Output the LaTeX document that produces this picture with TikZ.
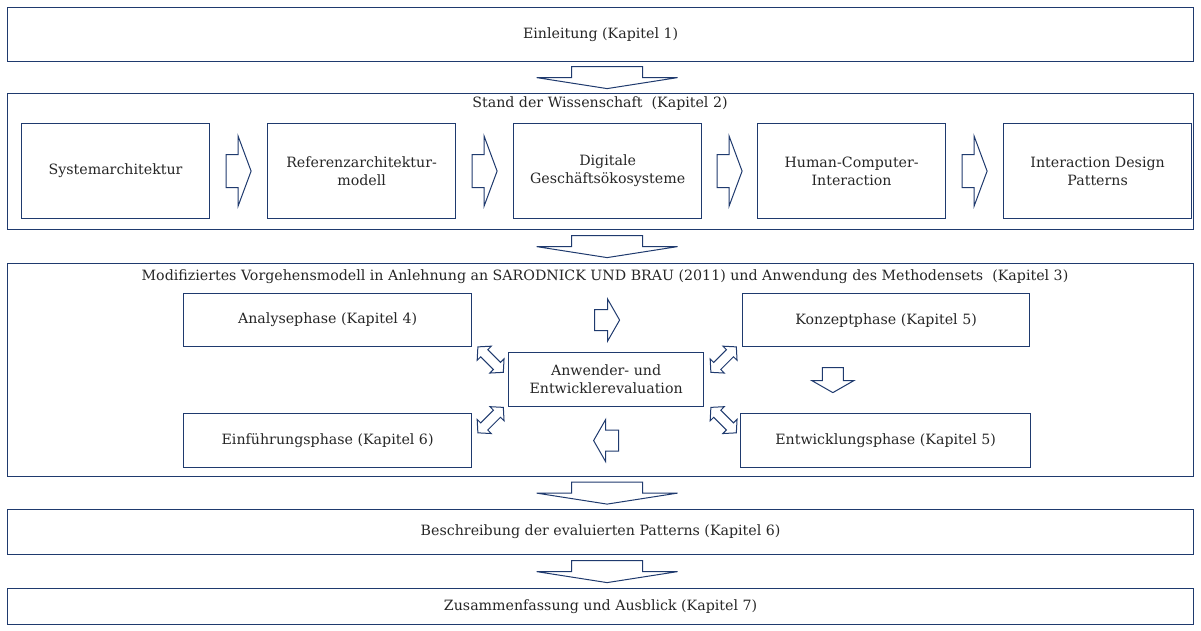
\documentclass[tikz,border=0pt]{standalone}
\usepackage{fontspec}
\setmainfont{DejaVu Serif}
\usetikzlibrary{calc}
\definecolor{navy}{HTML}{1F3A6E}

\tikzset{
  frame/.style={draw=navy, line width=1.2pt, inner sep=0pt, anchor=north west,
    align=center, text=black!85, font=\fontsize{14.2}{18}\selectfont},
  lbl/.style={inner sep=0pt, align=center, text=black!85, font=\fontsize{14.2}{18}\selectfont},
  blk/.style={draw=navy, line width=1pt, fill=white, line join=miter},
  % wide arrow between the chapter blocks, pointing down
  bigdown/.pic={\draw[blk] (-35.5,-11) -- (35.5,-11) -- (35.5,0) -- (70.5,0) -- (0,11)
      -- (-70.5,0) -- (-35.5,0) -- cycle;},
  % slim arrow between the boxes of a row, pointing right
  rowarrow/.pic={\draw[blk] (-12.5,-16.5) -- (-0.5,-16.5) -- (-0.5,-35) -- (12.5,0)
      -- (-0.5,35) -- (-0.5,16.5) -- (-12.5,16.5) -- cycle;},
  % small arrow of the phase cycle, pointing right
  cycarrow/.pic={\draw[blk] (-12.5,-10.5) -- (0.5,-10.5) -- (0.5,-21) -- (12.5,0)
      -- (0.5,21) -- (0.5,10.5) -- (-12.5,10.5) -- cycle;},
  % two-headed arrow to the evaluation box
  dblarrow/.pic={\draw[blk] (-18,0) -- (-9,-10) -- (-9,-5) -- (9,-5) -- (9,-10) -- (18,0)
      -- (9,10) -- (9,5) -- (-9,5) -- (-9,10) -- cycle;}
}

\begin{document}
\begin{tikzpicture}[x=1pt,y=-1pt]
\useasboundingbox (0,0) rectangle (1201,630);

% chapter blocks
\node[frame, minimum width=1186pt, minimum height=54pt] (ein) at (7,7) {Einleitung (Kapitel 1)};
\node[frame, minimum width=1186pt, minimum height=136pt] (stand) at (7,93) {};
\node[frame, minimum width=1186pt, minimum height=213pt] (modell) at (7,263) {};
\node[frame, minimum width=1186pt, minimum height=45pt] (besch) at (7,509) {Beschreibung der evaluierten Patterns (Kapitel 6)};
\node[frame, minimum width=1186pt, minimum height=36pt] (zus) at (7,588) {Zusammenfassung und Ausblick (Kapitel 7)};

\node[lbl] (standtitle) at (600,104) {Stand der Wissenschaft\ \ (Kapitel 2)};
\node[lbl] (modelltitle) at (605,277) {Modifiziertes Vorgehensmodell in Anlehnung an SARODNICK UND BRAU (2011) und Anwendung des Methodensets\ \ (Kapitel 3)};

% state of the art row
\node[frame, minimum width=188pt, minimum height=95pt] (sys) at (21,123) {Systemarchitektur};
\node[frame, minimum width=188pt, minimum height=95pt] (ref) at (267,123) {Referenzarchitektur-\\modell};
\node[frame, minimum width=188pt, minimum height=95pt] (dig) at (513,123) {Digitale\\Geschäftsökosysteme};
\node[frame, minimum width=188pt, minimum height=95pt] (hci) at (757,123) {Human-Computer-\\Interaction};
\node[frame, minimum width=188pt, minimum height=95pt] (idp) at (1003,123) {Interaction Design\\Patterns};

\pic at ($(sys.east)!0.5!(ref.west)$) {rowarrow};
\pic at ($(ref.east)!0.5!(dig.west)$) {rowarrow};
\pic at ($(dig.east)!0.5!(hci.west)$) {rowarrow};
\pic at ($(hci.east)!0.5!(idp.west)$) {rowarrow};

% phases
\node[frame, minimum width=288pt, minimum height=53pt] (ana) at (183,293) {Analysephase (Kapitel 4)};
\node[frame, minimum width=287pt, minimum height=53pt] (kon) at (742,293) {Konzeptphase (Kapitel 5)};
\node[frame, minimum width=195pt, minimum height=54pt] (eval) at (508,352) {Anwender- und\\Entwicklerevaluation};
\node[frame, minimum width=288pt, minimum height=54pt] (einf) at (183,413) {Einführungsphase (Kapitel 6)};
\node[frame, minimum width=290pt, minimum height=54pt] (entw) at (740,413) {Entwicklungsphase (Kapitel 5)};

\pic at ($(ana.east)!0.5!(kon.west)$) {cycarrow};
\pic[rotate=180] at ($(einf.east)!0.5!(entw.west)$) {cycarrow};
\pic[rotate=-90] at ($(kon.south)!0.5!(entw.north) + (-53,0)$) {cycarrow};

\pic[rotate=-45] at ($(ana.south east)!0.5!(eval.north west) + (0.5,10)$) {dblarrow};
\pic[rotate=45] at ($(kon.south west)!0.5!(eval.north east) + (0.5,10)$) {dblarrow};
\pic[rotate=45] at ($(einf.north east)!0.5!(eval.south west) + (0.5,10)$) {dblarrow};
\pic[rotate=-45] at ($(entw.north west)!0.5!(eval.south east) + (1.5,10)$) {dblarrow};

% flow between the chapter blocks
\pic at ($(ein.south)!0.5!(stand.north) + (6.5,0)$) {bigdown};
\pic at ($(stand.south)!0.5!(modell.north) + (6.5,0)$) {bigdown};
\pic at ($(modell.south)!0.5!(besch.north) + (6.5,0)$) {bigdown};
\pic at ($(besch.south)!0.5!(zus.north) + (6.5,0)$) {bigdown};
\end{tikzpicture}
\end{document}
